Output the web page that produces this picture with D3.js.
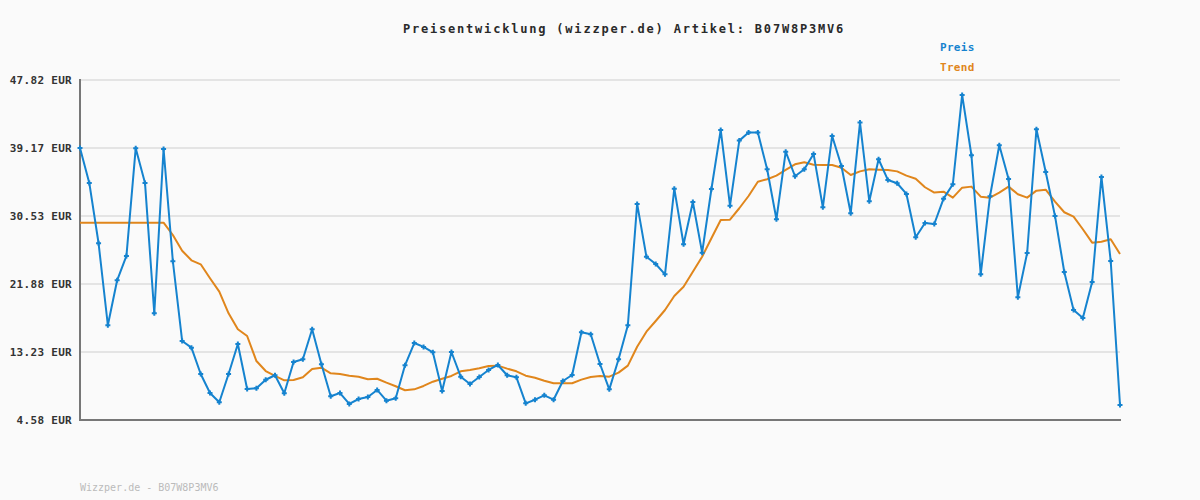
<!DOCTYPE html>
<html>
<head>
<meta charset="utf-8">
<script src="https://cdn.jsdelivr.net/npm/d3@7"></script>
<style>
  html, body { margin: 0; padding: 0; background: #fafafa; }
  svg { display: block; }
</style>
</head>
<body>
<svg id="chart" width="1200" height="500"></svg>
<script>
const titleText = "Preisentwicklung (wizzper.de) Artikel: B07W8P3MV6";
const footerText = "Wizzper.de - B07W8P3MV6";
const seriesNames = ["Preis", "Trend"];
const tickValues = [4.58, 13.23, 21.88, 30.53, 39.17, 47.82];
const tickLabels = ["4.58 EUR", "13.23 EUR", "21.88 EUR", "30.53 EUR", "39.17 EUR", "47.82 EUR"];

const preis = [
  39.17, 34.73, 27.06, 16.63, 22.35, 25.44, 39.15, 34.73, 18.15, 39.05,
  24.77, 14.63, 13.78, 10.43, 8.01, 6.83, 10.43, 14.25, 8.52, 8.61,
  9.70, 10.27, 7.98, 11.96, 12.30, 16.12, 11.66, 7.60, 8.01, 6.62,
  7.25, 7.51, 8.40, 7.04, 7.34, 11.54, 14.37, 13.87, 13.19, 8.27,
  13.23, 10.09, 9.16, 10.05, 10.94, 11.58, 10.27, 10.01, 6.70, 7.16,
  7.72, 7.16, 9.54, 10.30, 15.74, 15.48, 11.70, 8.48, 12.30, 16.63,
  32.06, 25.35, 24.42, 23.11, 34.00, 26.93, 32.31, 25.86, 33.96, 41.47,
  31.84, 40.11, 41.13, 41.13, 36.47, 30.11, 38.71, 35.58, 36.47, 38.42,
  31.63, 40.70, 36.89, 30.87, 42.40, 32.40, 37.74, 35.11, 34.69, 33.33,
  27.82, 29.64, 29.51, 32.73, 34.56, 45.92, 38.25, 23.11, 33.03, 39.52,
  35.24, 20.19, 25.82, 41.56, 36.13, 30.53, 23.40, 18.57, 17.55, 22.13,
  35.49, 24.80, 6.49
];

const trend = [
  29.68, 29.68, 29.68, 29.68, 29.68, 29.68, 29.68, 29.68, 29.68, 29.68,
  28.11, 26.11, 24.89, 24.38, 22.60, 20.90, 18.15, 16.12, 15.26, 12.08,
  10.81, 10.18, 9.63, 9.67, 10.01, 11.07, 11.23, 10.52, 10.43, 10.22,
  10.09, 9.76, 9.83, 9.33, 8.87, 8.36, 8.48, 8.91, 9.45, 9.83,
  10.18, 10.77, 10.94, 11.16, 11.45, 11.49, 11.11, 10.77, 10.22, 9.96,
  9.58, 9.25, 9.25, 9.25, 9.71, 10.05, 10.18, 10.09, 10.60, 11.49,
  13.90, 15.81, 17.17, 18.57, 20.35, 21.53, 23.44, 25.35, 27.69, 30.02,
  30.06, 31.51, 33.07, 34.89, 35.20, 35.66, 36.38, 37.10, 37.36, 37.05,
  37.01, 37.01, 36.67, 35.74, 36.20, 36.47, 36.42, 36.38, 36.20, 35.66,
  35.27, 34.18, 33.50, 33.62, 32.86, 34.13, 34.26, 32.98, 32.86, 33.50,
  34.26, 33.29, 32.86, 33.75, 33.87, 32.35, 31.00, 30.44, 28.84, 27.13,
  27.26, 27.56, 25.69
];

const blue = "#1583cf";
const orange = "#e0861c";
const mono = "'DejaVu Sans Mono', 'Liberation Mono', monospace";

const svg = d3.select("#chart");
svg.append("rect").attr("width", 1200).attr("height", 500).attr("fill", "#fafafa");

const x = d3.scaleLinear().domain([0, preis.length - 1]).range([80, 1120]);
const y = d3.scaleLinear().domain([4.58, 47.82]).range([420, 80]);

// gridlines
svg.append("g").selectAll("line").data(tickValues.slice(1)).join("line")
  .attr("x1", 80).attr("x2", 1120)
  .attr("y1", d => y(d)).attr("y2", d => y(d))
  .attr("stroke", "#e4e4e4").attr("stroke-width", 2);

// y axis labels via d3 axis
const yAxis = d3.axisLeft(y).tickValues(tickValues)
  .tickFormat((d, i) => tickLabels[i]).tickSize(0).tickPadding(8);
const yg = svg.append("g").attr("transform", "translate(80,0)").call(yAxis);
yg.select(".domain").remove();
yg.selectAll("text")
  .attr("font-family", mono).attr("font-size", 11).attr("font-weight", "bold")
  .attr("fill", "#333").attr("letter-spacing", 0.3);

// axes lines
svg.append("line").attr("x1", 80).attr("x2", 80).attr("y1", 79).attr("y2", 420)
  .attr("stroke", "#777").attr("stroke-width", 2);
svg.append("line").attr("x1", 79).attr("x2", 1121).attr("y1", 420).attr("y2", 420)
  .attr("stroke", "#777").attr("stroke-width", 2);

// trend line
const line = d3.line().x((d, i) => x(i)).y(d => y(d));
svg.append("path").datum(trend).attr("d", line)
  .attr("fill", "none").attr("stroke", orange).attr("stroke-width", 2)
  .attr("stroke-linejoin", "round");

// price line
svg.append("path").datum(preis).attr("d", line)
  .attr("fill", "none").attr("stroke", blue).attr("stroke-width", 2)
  .attr("stroke-linejoin", "round");

// markers (small crosses)
const mk = svg.append("g");
mk.selectAll("path").data(preis).join("path")
  .attr("d", (d, i) => {
    const cx = x(i), cy = y(d);
    return `M${cx-2.5},${cy}H${cx+2.5}M${cx},${cy-2.5}V${cy+2.5}`;
  })
  .attr("stroke", blue).attr("stroke-width", 2);

// title
svg.append("text").attr("x", 624).attr("y", 33).attr("text-anchor", "middle")
  .attr("font-family", mono).attr("font-size", 12).attr("font-weight", "bold")
  .attr("letter-spacing", 1.8)
  .attr("fill", "#2a2a2a").text(titleText);

// legend
const legColors = [blue, orange];
svg.append("g").selectAll("text").data(seriesNames).join("text")
  .attr("x", 940).attr("y", (d, i) => 51 + i * 20)
  .attr("font-family", mono).attr("font-size", 11).attr("font-weight", "bold")
  .attr("letter-spacing", 0.3)
  .attr("fill", (d, i) => legColors[i]).text(d => d);

// footer
svg.append("text").attr("x", 80).attr("y", 491)
  .attr("font-family", mono).attr("font-size", 10)
  .attr("fill", "#bbbbbb").text(footerText);
</script>
</body>
</html>
